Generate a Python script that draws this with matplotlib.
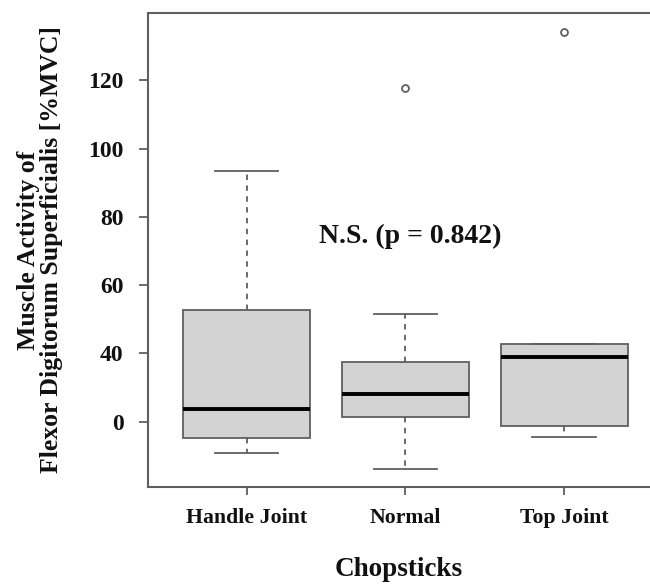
import numpy as np
import matplotlib.pyplot as plt

plt.rcParams['font.family'] = ['Liberation Serif', 'DejaVu Serif']
plt.rcParams['font.weight'] = 'bold'

groups = ['Handle Joint', 'Normal', 'Top Joint']
whislo = [10.8, 6.1, 15.6]
q1 = [15.3, 21.5, 18.7]
med = [23.6, 28.1, 38.9]
q3 = [52.7, 37.4, 42.7]
whishi = [93.4, 51.5, 42.8]
outliers = [[], [117.6], [134.1]]

ytick_pos = [20, 40, 60, 80, 100, 120]
ytick_lab = ['0', '40', '60', '80', '100', '120']

stats = []
for i in range(len(groups)):
    stats.append({'label': groups[i], 'whislo': whislo[i], 'q1': q1[i],
                  'med': med[i], 'q3': q3[i], 'whishi': whishi[i],
                  'fliers': outliers[i]})

edge = '#5f5f5f'
fig = plt.figure(figsize=(6.5, 5.84), dpi=100)
ax = fig.add_axes([148/650, 1 - 487/584, 1 - 148/650, (487 - 13)/584])

ax.bxp(stats, positions=[1, 2, 3], widths=0.8, capwidths=0.4,
       patch_artist=True, showfliers=True,
       boxprops=dict(facecolor='#d3d3d3', edgecolor=edge, linewidth=1.3),
       medianprops=dict(color='black', linewidth=2.8, solid_capstyle='butt'),
       whiskerprops=dict(color=edge, linewidth=1.3, linestyle=(0, (3, 3))),
       capprops=dict(color=edge, linewidth=1.3),
       flierprops=dict(marker='o', markerfacecolor='none', markeredgecolor=edge,
                       markersize=5, markeredgewidth=1.3))

ax.set_xlim(0.378, 3.541)
ax.set_ylim(0.9, 139.7)
ax.set_yticks(ytick_pos)
ax.set_yticklabels(ytick_lab)
ax.set_xticks([1, 2, 3])
ax.set_xticklabels(groups)

for s in ['left', 'bottom', 'top']:
    ax.spines[s].set_color(edge)
    ax.spines[s].set_linewidth(1.5)
ax.spines['right'].set_visible(False)
ax.tick_params(axis='both', colors=edge, width=1.3, labelcolor='#111111')
ax.tick_params(axis='y', length=6.5, pad=11, labelsize=17)
ax.tick_params(axis='x', length=6, pad=9, labelsize=15.7)

ax.text(2.03, 74.4, 'N.S. (p = 0.842)', ha='center', va='center',
        fontsize=20, fontweight='bold', color='#111111')

ax.set_ylabel('Muscle Activity of\nFlexor Digitorum Superficialis [%MVC]',
              fontsize=18.5, fontweight='bold', linespacing=1.0, color='#111111')
ax.yaxis.set_label_coords((63 - 148)/502, 0.5)
ax.set_xlabel('Chopsticks', fontsize=19.5, fontweight='bold', color='#111111')
ax.xaxis.set_label_coords((399 - 148)/502, -(557 - 487)/474)

fig.savefig('out.png', dpi=100)
